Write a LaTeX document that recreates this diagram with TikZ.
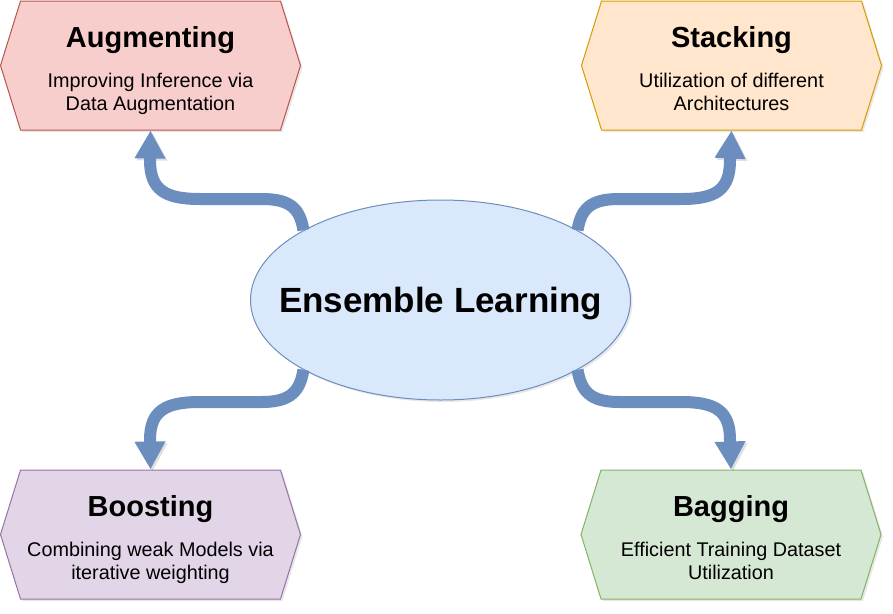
\documentclass[tikz,border=0pt]{standalone}
\usepackage{fontspec}
\setmainfont{Liberation Sans}
\usetikzlibrary{shapes.symbols,shapes.geometric,arrows.meta,shadows}

\definecolor{augfill}{HTML}{F8CECC}\definecolor{augline}{HTML}{B85450}
\definecolor{stkfill}{HTML}{FFE6CC}\definecolor{stkline}{HTML}{D79B00}
\definecolor{bstfill}{HTML}{E1D5E7}\definecolor{bstline}{HTML}{9673A6}
\definecolor{bagfill}{HTML}{D5E8D4}\definecolor{bagline}{HTML}{82B366}
\definecolor{ensfill}{HTML}{DAE8FC}\definecolor{ensline}{HTML}{6C8EBF}

% bold heading of a method box; the strut pushes the text block down a little
\newcommand\hexhead[1]{{\fontsize{29}{35}\selectfont\bfseries\rule{0pt}{32pt}#1}}
% fixed depth for the last line, so every box places its text alike
\newcommand\lastline[1]{#1\rule[-5pt]{0pt}{1pt}}

\begin{document}
\begin{tikzpicture}[x=1pt,y=1pt,
  hexbox/.style={shape=signal, signal to=east and west,
    signal pointer angle=145.5, minimum width=300pt, minimum height=129pt,
    inner sep=0pt, line width=1pt, align=center,
    font=\fontsize{19.8}{23.5}\selectfont,
    drop shadow={opacity=0.18, shadow xshift=2pt, shadow yshift=-2pt}},
  hub/.style={ellipse, minimum width=380pt, minimum height=200pt,
    inner sep=0pt, fill=ensfill, draw=ensline, line width=1pt,
    font=\fontsize{35}{42}\selectfont\bfseries,
    drop shadow={opacity=0.18, shadow xshift=2pt, shadow yshift=-2pt}},
  flow/.style={line width=12pt, draw=ensline,
    -{Triangle[length=28pt,width=29pt]},
    preaction={draw=black, opacity=0.12,
      transform canvas={xshift=2pt,yshift=-2pt}}}
]
\useasboundingbox (0,0) rectangle (893,-613);

\node[hub] (ens) at (440.5,-300)
  {\raisebox{-12.5pt}[0pt][0pt]{\makebox[0pt]{Ensemble Learning}}};

\node[hexbox, fill=augfill, draw=augline] (aug) at (150.5,-65.5)
  {\hexhead{Augmenting}\\[16.5pt]Improving Inference via\\\lastline{Data Augmentation}};
\node[hexbox, fill=stkfill, draw=stkline] (stk) at (731.5,-65.5)
  {\hexhead{Stacking}\\[16.5pt]Utilization of different\\\lastline{Architectures}};
\node[hexbox, fill=bstfill, draw=bstline] (bst) at (150.5,-534.5)
  {\hexhead{Boosting}\\[16.5pt]Combining weak Models via\\\lastline{iterative weighting}};
\node[hexbox, fill=bagfill, draw=bagline] (bag) at (731,-534.5)
  {\hexhead{Bagging}\\[16.5pt]Efficient Training Dataset\\\lastline{Utilization}};

% curved connectors from the hub to each method
\draw[flow] (ens.153) .. controls (300,-210) and (292,-199) .. (262,-199)
  -- (200,-199) .. controls (165,-199) and (150,-190) .. (150,-160) -- (aug.south);
\draw[flow] (ens.27) .. controls (581,-210) and (589,-199) .. (619,-199)
  -- (681,-199) .. controls (716,-199) and (730,-190) .. (730,-160) -- (stk.south);
\draw[flow] (ens.207) .. controls (300,-390) and (292,-402) .. (262,-402)
  -- (200,-402) .. controls (165,-402) and (150,-411) .. (150,-440) -- (bst.north);
\draw[flow] (ens.333) .. controls (581,-390) and (589,-402) .. (619,-402)
  -- (681,-402) .. controls (716,-402) and (730,-411) .. (730,-440) -- (bag.north);
\end{tikzpicture}
\end{document}
